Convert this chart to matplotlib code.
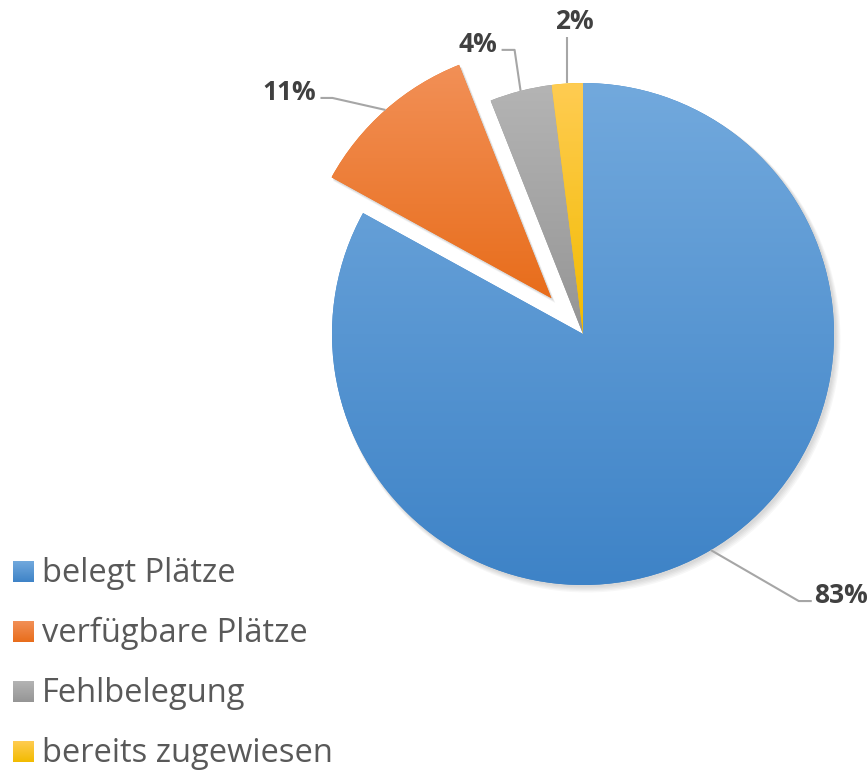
#! /usr/bin/env python

import numpy as np
import matplotlib
matplotlib.use('Agg')
import matplotlib.pyplot as plt
from matplotlib.colors import LinearSegmentedColormap
from matplotlib.patches import Wedge

labels = ['belegt Plätze', 'verfügbare Plätze', 'Fehlbelegung', 'bereits zugewiesen']
values = [83, 11, 4, 2]
explode = [0.0, 0.19, 0.0, 0.0]
# (top colour, bottom colour) for the vertical gradient of each slice
grad_colors = [('#72a9dd', '#3e83c7'),
               ('#f29057', '#e86d1b'),
               ('#b4b4b4', '#959595'),
               ('#ffcc52', '#f2bb00')]
# leader line: (elbow dx, elbow dy, end dx) in pixels from the slice edge point
leader = [(88, -51, 101), (-53, 12, -65), (-6, 41, -19), (0, 46, 0)]

W, H = 868, 771
cx, cy, R = 583, H - 334, 251

plt.rcParams['font.family'] = ['Open Sans', 'DejaVu Sans']

fig = plt.figure(figsize=(W / 100, H / 100), dpi=100)
ax = fig.add_axes([0, 0, 1, 1])


def gradient(top, bottom):
    return LinearSegmentedColormap.from_list('g', [bottom, top])


# slice geometry (pie's explode is in data units, so scale by radius)
total = float(sum(values))
start = 90.0
angles = []
for v, e in zip(values, explode):
    span = 360.0 * v / total
    t2, t1 = start, start - span
    mid = np.deg2rad((t1 + t2) / 2)
    ox, oy = cx + e * R * np.cos(mid), cy + e * R * np.sin(mid)
    angles.append((t1, t2, mid, ox, oy))
    start = t1

# soft shadow under the slices
for k in range(1, 6):
    for t1, t2, mid, ox, oy in angles:
        ax.add_patch(Wedge((ox + 1 + 0.6 * k, oy - 1 - 0.8 * k), R + 0.5 * k, t1, t2,
                           color='black', alpha=0.03, lw=0, zorder=1))

wedges, _ = ax.pie(values, explode=[e * R for e in explode], startangle=90,
                   counterclock=False, center=(cx, cy), radius=R,
                   colors=[c[1] for c in grad_colors],
                   wedgeprops=dict(linewidth=0), frame=True)

grad = np.linspace(0, 1, 256).reshape(-1, 1)
for w, (top, bottom) in zip(wedges, grad_colors):
    w.set_zorder(2)
    ext = w.get_path().get_extents()
    im = ax.imshow(grad, cmap=gradient(top, bottom), origin='lower', aspect='auto',
                   extent=[ext.x0, ext.x1, ext.y0, ext.y1], zorder=3, interpolation='bilinear')
    im.set_clip_path(w)

# percentage labels with leader lines
for (t1, t2, mid, ox, oy), v, (dx, dy, ex) in zip(angles, values, leader):
    px, py = ox + R * np.cos(mid), oy + R * np.sin(mid)
    ax.plot([px, px + dx, px + ex], [py, py + dy, py + dy], color='#a6a6a6', lw=1.5,
            zorder=4, solid_capstyle='butt')
    txt = f'{v}%'
    if ex > dx:
        ax.text(px + ex + 2, py + dy - 2, txt, ha='left', va='baseline',
                fontsize=19, fontweight='bold', color='#404040')
    elif ex < dx:
        ax.text(px + ex - 4, py + dy - 2, txt, ha='right', va='baseline',
                fontsize=19, fontweight='bold', color='#404040')
    else:
        ax.text(px + 7, py + dy + 8, txt, ha='center', va='baseline',
                fontsize=19, fontweight='bold', color='#404040')

# legend
for i, (lab, (top, bottom)) in enumerate(zip(labels, grad_colors)):
    y0 = H - 582 - 60 * i
    ax.imshow(grad, cmap=gradient(top, bottom), origin='lower', aspect='auto',
              extent=[13, 34, y0, y0 + 21], zorder=3)
    ax.text(42, y0, lab, ha='left', va='baseline', fontsize=23.5, color='#595959')

ax.set_xlim(0, W)
ax.set_ylim(0, H)
ax.set_aspect('equal')
ax.axis('off')
fig.savefig('out.png', dpi=100)
